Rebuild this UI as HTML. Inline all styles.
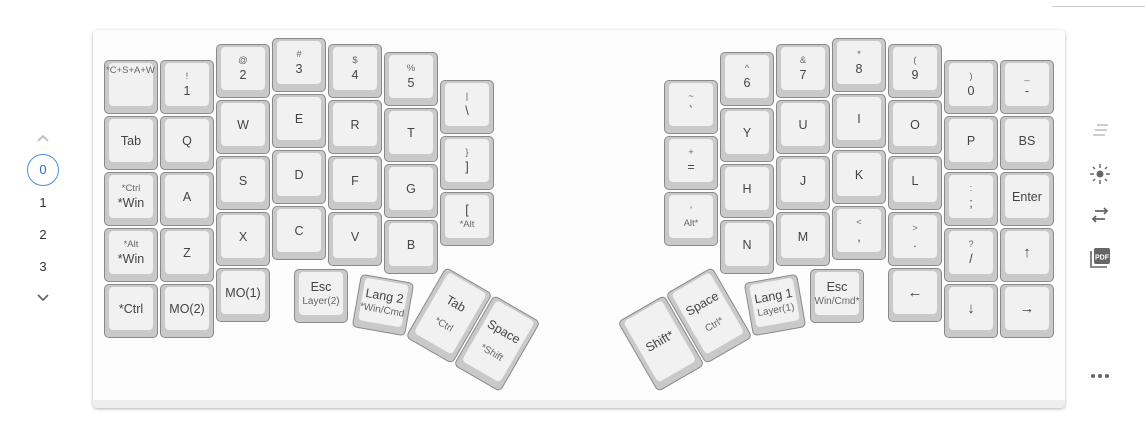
<!DOCTYPE html>
<html><head><meta charset="utf-8"><style>
body{margin:0;width:1145px;height:428px;background:#fff;position:relative;overflow:hidden;font-family:"Liberation Sans",sans-serif;color:#444}
.card{position:absolute;left:93px;top:30px;width:972px;height:378px;background:#fdfdfd;border-radius:4px;box-shadow:0 1px 3px rgba(0,0,0,.3)}
.card:after{content:"";position:absolute;left:0;right:0;bottom:0;height:8px;background:#eee;border-radius:0 0 4px 4px}
.k{position:absolute;width:52px;height:52px;border:1px solid #8a8a8a;background:#c9c9c9;border-radius:5px;box-sizing:content-box}
.f{position:absolute;left:4px;right:4px;top:2px;bottom:7px;background:#f1f1f1;border-radius:4px;display:flex;flex-direction:column;align-items:center;justify-content:center;font-size:12.5px;line-height:16px;text-align:center;white-space:nowrap}
.s{font-size:9.5px;line-height:13px;color:#666}
.a{font-size:15px}
.t{height:79px}
.side{position:absolute;font-size:13px;color:#333;width:30px;text-align:center}
</style></head><body>
<div style="position:absolute;left:1052px;top:6px;width:93px;height:1px;background:#ccc"></div>
<div class="card"></div>
<svg style="position:absolute;left:36px;top:133px" width="14" height="10"><path d="M2 8 L7 3 L12 8" stroke="#bbb" stroke-width="1.8" fill="none"/></svg>
<div style="position:absolute;left:27px;top:154px;width:30px;height:30px;border:1px solid #4a8fe0;border-radius:50%;color:#2a6fd0;font-size:13px;text-align:center;line-height:30px">0</div>
<div class="side" style="left:28px;top:195px">1</div>
<div class="side" style="left:28px;top:227px">2</div>
<div class="side" style="left:28px;top:259px">3</div>
<svg style="position:absolute;left:36px;top:293px" width="14" height="10"><path d="M2 2 L7 7 L12 2" stroke="#666" stroke-width="1.8" fill="none"/></svg>
<svg style="position:absolute;left:1090px;top:122px" width="22" height="16"><path d="M7 3H18M5 8H17M3 13H15" stroke="#bbb" stroke-width="1.5"/></svg>
<svg style="position:absolute;left:1089px;top:163px" width="22" height="22"><circle cx="11" cy="11" r="3.5" fill="#666"/><path d="M11 1v4M11 17v4M1 11h4M17 11h4M4 4l2 2M16 16l2 2M4 18l2-2M16 6l2-2" stroke="#666" stroke-width="1.5"/></svg>
<svg style="position:absolute;left:1089px;top:205px" width="22" height="20"><path d="M6 6H18M15 3l3 3-3 3M16 14H4M7 11l-3 3 3 3" stroke="#666" stroke-width="1.8" fill="none"/></svg>
<svg style="position:absolute;left:1089px;top:246px" width="22" height="24"><path d="M2 5V21H18" stroke="#666" stroke-width="1.6" fill="none"/><rect x="5" y="2" width="16" height="16" rx="2" fill="#666"/><text x="13" y="13.5" font-size="7" font-weight="bold" fill="#fff" text-anchor="middle" font-family="Liberation Sans">PDF</text></svg>
<svg style="position:absolute;left:1090px;top:372px" width="22" height="8"><circle cx="3" cy="4" r="2" fill="#666"/><circle cx="10" cy="4" r="2" fill="#666"/><circle cx="17" cy="4" r="2" fill="#666"/></svg>

<div class="k" style="left:104px;top:60px"><div class="f" style="justify-content:flex-start;align-items:flex-start"><span class="s" style="margin-top:1px;margin-left:-3px">*C+S+A+W</span></div></div>
<div class="k" style="left:104px;top:116px"><div class="f">Tab</div></div>
<div class="k" style="left:104px;top:172px"><div class="f"><span class="s">*Ctrl</span><span>*Win</span></div></div>
<div class="k" style="left:104px;top:228px"><div class="f"><span class="s">*Alt</span><span>*Win</span></div></div>
<div class="k" style="left:104px;top:284px"><div class="f">*Ctrl</div></div>

<div class="k" style="left:160px;top:60px"><div class="f"><span class="s">!</span><span>1</span></div></div>
<div class="k" style="left:160px;top:116px"><div class="f">Q</div></div>
<div class="k" style="left:160px;top:172px"><div class="f">A</div></div>
<div class="k" style="left:160px;top:228px"><div class="f">Z</div></div>
<div class="k" style="left:160px;top:284px"><div class="f">MO(2)</div></div>

<div class="k" style="left:216px;top:44px"><div class="f"><span class="s">@</span><span>2</span></div></div>
<div class="k" style="left:216px;top:100px"><div class="f">W</div></div>
<div class="k" style="left:216px;top:156px"><div class="f">S</div></div>
<div class="k" style="left:216px;top:212px"><div class="f">X</div></div>
<div class="k" style="left:216px;top:268px"><div class="f">MO(1)</div></div>

<div class="k" style="left:272px;top:38px"><div class="f"><span class="s">#</span><span>3</span></div></div>
<div class="k" style="left:272px;top:94px"><div class="f">E</div></div>
<div class="k" style="left:272px;top:150px"><div class="f">D</div></div>
<div class="k" style="left:272px;top:206px"><div class="f">C</div></div>

<div class="k" style="left:328px;top:44px"><div class="f"><span class="s">$</span><span>4</span></div></div>
<div class="k" style="left:328px;top:100px"><div class="f">R</div></div>
<div class="k" style="left:328px;top:156px"><div class="f">F</div></div>
<div class="k" style="left:328px;top:212px"><div class="f">V</div></div>

<div class="k" style="left:384px;top:52px"><div class="f"><span class="s">%</span><span>5</span></div></div>
<div class="k" style="left:384px;top:108px"><div class="f">T</div></div>
<div class="k" style="left:384px;top:164px"><div class="f">G</div></div>
<div class="k" style="left:384px;top:220px"><div class="f">B</div></div>

<div class="k" style="left:440px;top:80px"><div class="f"><span class="s">|</span><span>\</span></div></div>
<div class="k" style="left:440px;top:136px"><div class="f"><span class="s">}</span><span>]</span></div></div>
<div class="k" style="left:440px;top:192px"><div class="f"><span>[</span><span class="s">*Alt</span></div></div>

<div class="k" style="left:294px;top:269px"><div class="f"><span>Esc</span><span class="s" style="font-size:10px">Layer(2)</span></div></div>
<div class="k" style="left:356px;top:278px;transform:rotate(10deg)"><div class="f"><span>Lang 2</span><span class="s" style="font-size:10px">*Win/Cmd</span></div></div>
<div class="k t" style="left:422px;top:275px;transform:rotate(30deg)"><div class="f"><span>Tab</span><span class="s" style="font-size:10px;margin-top:10px">*Ctrl</span></div></div>
<div class="k t" style="left:470px;top:303px;transform:rotate(30deg)"><div class="f"><span>Space</span><span class="s" style="font-size:10px;margin-top:10px">*Shift</span></div></div>

<div class="k" style="left:664px;top:80px"><div class="f"><span class="s">~</span><span>`</span></div></div>
<div class="k" style="left:664px;top:136px"><div class="f"><span class="s">+</span><span>=</span></div></div>
<div class="k" style="left:664px;top:192px"><div class="f"><span class="s">'</span><span class="s">Alt*</span></div></div>

<div class="k" style="left:720px;top:52px"><div class="f"><span class="s">^</span><span>6</span></div></div>
<div class="k" style="left:720px;top:108px"><div class="f">Y</div></div>
<div class="k" style="left:720px;top:164px"><div class="f">H</div></div>
<div class="k" style="left:720px;top:220px"><div class="f">N</div></div>

<div class="k" style="left:776px;top:44px"><div class="f"><span class="s">&amp;</span><span>7</span></div></div>
<div class="k" style="left:776px;top:100px"><div class="f">U</div></div>
<div class="k" style="left:776px;top:156px"><div class="f">J</div></div>
<div class="k" style="left:776px;top:212px"><div class="f">M</div></div>

<div class="k" style="left:832px;top:38px"><div class="f"><span class="s">*</span><span>8</span></div></div>
<div class="k" style="left:832px;top:94px"><div class="f">I</div></div>
<div class="k" style="left:832px;top:150px"><div class="f">K</div></div>
<div class="k" style="left:832px;top:206px"><div class="f"><span class="s">&lt;</span><span>,</span></div></div>

<div class="k" style="left:888px;top:44px"><div class="f"><span class="s">(</span><span>9</span></div></div>
<div class="k" style="left:888px;top:100px"><div class="f">O</div></div>
<div class="k" style="left:888px;top:156px"><div class="f">L</div></div>
<div class="k" style="left:888px;top:212px"><div class="f"><span class="s">&gt;</span><span>.</span></div></div>
<div class="k" style="left:888px;top:268px"><div class="f a">←</div></div>

<div class="k" style="left:944px;top:60px"><div class="f"><span class="s">)</span><span>0</span></div></div>
<div class="k" style="left:944px;top:116px"><div class="f">P</div></div>
<div class="k" style="left:944px;top:172px"><div class="f"><span class="s">:</span><span>;</span></div></div>
<div class="k" style="left:944px;top:228px"><div class="f"><span class="s">?</span><span>/</span></div></div>
<div class="k" style="left:944px;top:284px"><div class="f a">↓</div></div>

<div class="k" style="left:1000px;top:60px"><div class="f"><span class="s">_</span><span>-</span></div></div>
<div class="k" style="left:1000px;top:116px"><div class="f">BS</div></div>
<div class="k" style="left:1000px;top:172px"><div class="f">Enter</div></div>
<div class="k" style="left:1000px;top:228px"><div class="f a">↑</div></div>
<div class="k" style="left:1000px;top:284px"><div class="f a">→</div></div>

<div class="k" style="left:810px;top:269px"><div class="f"><span>Esc</span><span class="s" style="font-size:10px">Win/Cmd*</span></div></div>
<div class="k" style="left:748px;top:278px;transform:rotate(-10deg)"><div class="f"><span>Lang 1</span><span class="s" style="font-size:10px">Layer(1)</span></div></div>
<div class="k t" style="left:682px;top:275px;transform:rotate(-30deg)"><div class="f"><span>Space</span><span class="s" style="font-size:10px;margin-top:10px">Ctrl*</span></div></div>
<div class="k t" style="left:634px;top:303px;transform:rotate(-30deg)"><div class="f"><span>Shift*</span></div></div>
</body></html>
